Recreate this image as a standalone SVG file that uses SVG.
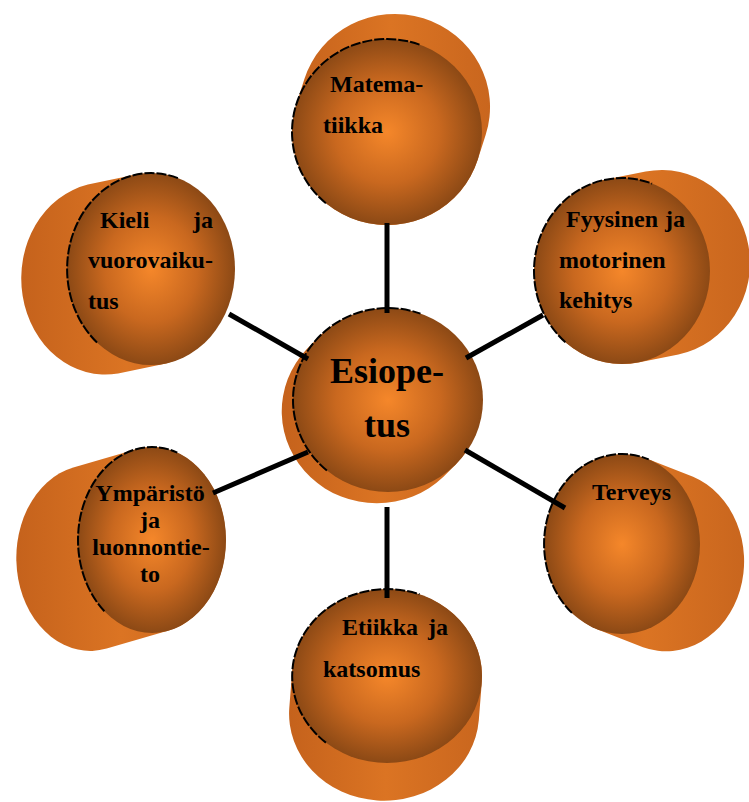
<svg xmlns="http://www.w3.org/2000/svg" width="749" height="802" viewBox="0 0 749 802">
<defs>
<radialGradient id="face" cx="0.5" cy="0.5" r="0.5">
<stop offset="0" stop-color="#F5872A"/>
<stop offset="0.55" stop-color="#C9681F"/>
<stop offset="1" stop-color="#8C4915"/>
</radialGradient>
<linearGradient id="side" x1="0" y1="0" x2="1" y2="0">
<stop offset="0" stop-color="#C5621C"/>
<stop offset="0.5" stop-color="#DB7423"/>
<stop offset="1" stop-color="#C9661E"/>
</linearGradient>
</defs>
<style>
.side{fill:url(#side);}
.face{fill:url(#face);}
.rim{fill:none;stroke:#000;stroke-width:2;stroke-dasharray:10 2;}
.lbl{font-family:"Liberation Serif","Times New Roman",serif;font-weight:bold;font-size:24px;fill:#000;}
.big{font-family:"Liberation Serif","Times New Roman",serif;font-weight:bold;font-size:36px;fill:#000;}
.conn line{stroke:#000;stroke-width:5;}
</style>
<rect width="749" height="802" fill="#fff"/>

<g id="node-matematiikka">
<path class="side" d="M296.3,104.2 L304.3,79.2 A95,93 0 0 1 485.7,134.8 L477.7,159.8 A95,93 0 0 1 296.3,104.2 Z"/>
<ellipse class="face" cx="387" cy="132" rx="95" ry="93"/>
<path class="rim" d="M325.9,203.2 A95,93 0 0 1 419.5,44.6"/>
<text class="lbl" x="330" y="92">Matema-</text>
<text class="lbl" x="323" y="133">tiikka</text>
</g>

<g id="node-fyysinen">
<path class="side" d="M605.6,179.6 L645.6,171.6 A88,93 0 0 1 678.4,354.4 L638.4,362.4 A88,93 0 0 1 605.6,179.6 Z"/>
<ellipse class="face" cx="622" cy="271" rx="88" ry="93"/>
<path class="rim" d="M565.4,342.2 A88,93 0 0 1 652.1,183.6"/>
<text class="lbl" y="227"><tspan x="566">Fyysinen</tspan><tspan x="665">ja</tspan></text>
<text class="lbl" x="559" y="268">motorinen</text>
<text class="lbl" x="559" y="308">kehitys</text>
</g>

<g id="node-terveys">
<path class="side" d="M647.1,458.8 L693.1,476.8 A78,90 0 0 1 643,647.2 L597,629.2 A78,90 0 0 1 647.1,458.8 Z"/>
<ellipse class="face" cx="622" cy="544" rx="78" ry="90"/>
<path class="rim" d="M571.9,612.9 A78,90 0 0 1 648.7,459.4"/>
<text class="lbl" x="592" y="500">Terveys</text>
</g>

<g id="node-etiikka">
<path class="side" d="M481.8,682.3 L478.8,720.3 A95,87 0 0 1 289.3,707.7 L292.3,669.7 A95,87 0 0 1 481.8,682.3 Z"/>
<ellipse class="face" cx="387" cy="676" rx="95" ry="87"/>
<path class="rim" d="M325.9,742.6 A95,87 0 0 1 419.5,594.3"/>
<text class="lbl" y="635"><tspan x="342">Etiikka</tspan><tspan x="428">ja</tspan></text>
<text class="lbl" x="323" y="677">katsomus</text>
</g>

<g id="node-ymparisto">
<path class="side" d="M168.7,630.6 L106.7,648.6 A74,93 0 0 1 73.3,467.4 L135.3,449.4 A74,93 0 0 1 168.7,630.6 Z"/>
<ellipse class="face" cx="152" cy="540" rx="74" ry="93"/>
<path class="rim" d="M104.4,611.2 A74,93 0 0 1 177.3,452.6"/>
<text class="lbl" text-anchor="middle" x="150" y="501">Ympäristö</text>
<text class="lbl" text-anchor="middle" x="150" y="528">ja</text>
<text class="lbl" text-anchor="middle" x="151" y="555">luonnontie-</text>
<text class="lbl" text-anchor="middle" x="150" y="582">to</text>
</g>

<g id="node-kieli">
<path class="side" d="M166.1,363.4 L118.1,373.4 A84,96 0 0 1 87.9,184.6 L135.9,174.6 A84,96 0 0 1 166.1,363.4 Z"/>
<ellipse class="face" cx="151" cy="269" rx="84" ry="96"/>
<path class="rim" d="M97,342.5 A84,96 0 0 1 179.7,178.8"/>
<text class="lbl" y="228"><tspan x="100">Kieli</tspan><tspan x="193">ja</tspan></text>
<text class="lbl" x="88" y="268">vuorovaiku-</text>
<text class="lbl" x="88" y="309">tus</text>
</g>

<g id="node-esiopetus">
<path class="side" d="M456.2,464 L443.2,477 A95,92 0 0 1 306.8,349 L319.8,336 A95,92 0 0 1 456.2,464 Z"/>
<ellipse class="face" cx="388" cy="400" rx="95" ry="92"/>
<path class="rim" d="M326.9,470.5 A95,92 0 0 1 420.5,313.6"/>
<text class="big" x="330" y="383">Esiope-</text>
<text class="big" text-anchor="middle" x="387" y="437">tus</text>
</g>

<g id="connectors" class="conn">
<line x1="387" y1="223" x2="387" y2="313"/>
<line x1="387" y1="507" x2="387" y2="598"/>
<line x1="229" y1="314" x2="308" y2="359"/>
<line x1="213" y1="493" x2="308" y2="452"/>
<line x1="466" y1="358" x2="543" y2="315"/>
<line x1="465" y1="450" x2="565" y2="508"/>
</g>
</svg>
